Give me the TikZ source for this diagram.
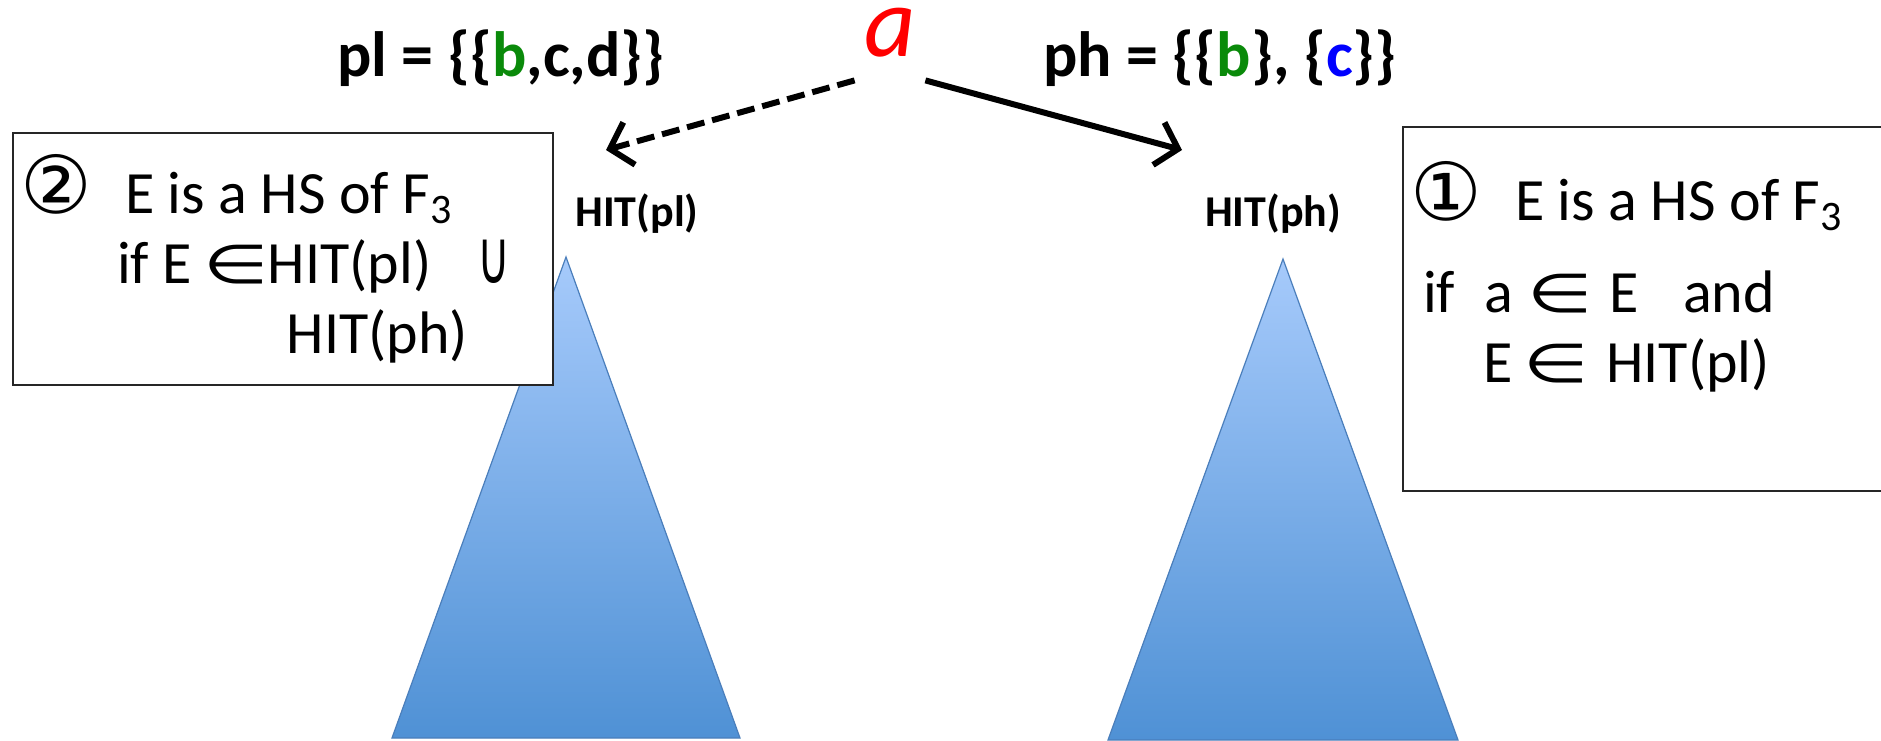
\documentclass[tikz,border=0pt]{standalone}
\usepackage{fontspec}
\setmainfont{Carlito}
\newfontfamily\symfont{DejaVu Sans}
\usetikzlibrary{arrows.meta, positioning}
\definecolor{setgreen}{HTML}{0A8A0A}
\definecolor{setblue}{HTML}{0000FF}
\definecolor{rootred}{HTML}{FF0000}
\definecolor{treetop}{HTML}{A6CAFB}
\definecolor{treebottom}{HTML}{4F91D5}
\definecolor{treeedge}{HTML}{4A7EBB}
\newcommand{\elem}{\makebox[22pt]{\scalebox{1.25}[0.9]{\symfont ∈}}}
\newcommand{\uni}{\makebox[13pt]{\scalebox{0.75}[1.25]{\symfont ∪}}}
\newcommand{\circnum}[1]{\makebox[29pt]{\fontsize{40}{40}\selectfont\symfont #1}}

\begin{document}
\begin{tikzpicture}[x=0.5pt, y=-0.5pt, >={Straight Barb[length=10pt,width=22pt]},
    cond/.style={draw=black!85, line width=1pt, fill=white, anchor=north west, align=flush left, inner xsep=7pt, font=\fontsize{30}{35}\selectfont},
    hit/.style={font=\fontsize{22}{24}\selectfont\bfseries},
    setlabel/.style={font=\fontsize{32}{36}\selectfont\bfseries},
    tree/.style={top color=treetop, bottom color=treebottom, draw=treeedge, line width=0.6pt},
    link/.style={->, line width=3pt, line cap=butt}]
    \useasboundingbox (0,0) rectangle (1881,740);
    \clip (0,0) rectangle (1881,740);

    \coordinate (pltop) at (566,257);
    \coordinate (phtop) at (1283,259);
    \shade[tree] (pltop) -- ++(-174,481) -- ++(348,0) -- cycle;
    \shade[tree] (phtop) -- ++(-175,481) -- ++(350,0) -- cycle;

    \node[hit] (hitpl) at (637,214) {HIT(pl)};
    \node[hit] (hitph) at (1273,214) {HIT(ph)};

    \node[setlabel] (pl) at (501,58) {pl = \{\{\textcolor{setgreen}{b},c,d\}\}};
    \node[setlabel] (ph) at (1220,58) {ph = \{\{\textcolor{setgreen}{b}\}, \{\textcolor{setblue}{c}\}\}};
    \node[text=rootred, font=\fontsize{50}{50}\selectfont\itshape, anchor=base, inner sep=0pt, text depth=12pt, minimum width=35pt] (a) at (890,56) {a};

    \coordinate (plend) at (606,150);
    \coordinate (phend) at (1182,150);
    \draw[link, dash pattern=on 9pt off 4pt] (a.south west) -- (plend);
    \draw[link] (a.south east) -- (phend);

    \node[cond, minimum width=270pt, minimum height=126pt, text width=256pt] (rule2) at (12,132)
        {\circnum{②}\hspace{20pt}E is a HS of F\textsubscript{3}\\
         \hspace*{45pt}if E\hspace{11pt}\elem\hspace{5pt}HIT(pl)\hspace{25pt}\uni\\
         \hspace*{130pt}HIT(ph)};
    \node[cond, minimum width=247pt, minimum height=182pt, text width=233pt] (rule1) at (1402,126)
        {\circnum{①}\hspace{20pt}E is a HS of F\textsubscript{3}\\[11pt]
         \hspace*{3pt}if\hspace{15pt}a\hspace{12pt}\elem\hspace{14pt}E\hspace{22pt}and\\
         \hspace*{33pt}E\hspace{11pt}\elem\hspace{14pt}HIT(pl)\\[2pt]
         \mbox{}};
\end{tikzpicture}
\end{document}
